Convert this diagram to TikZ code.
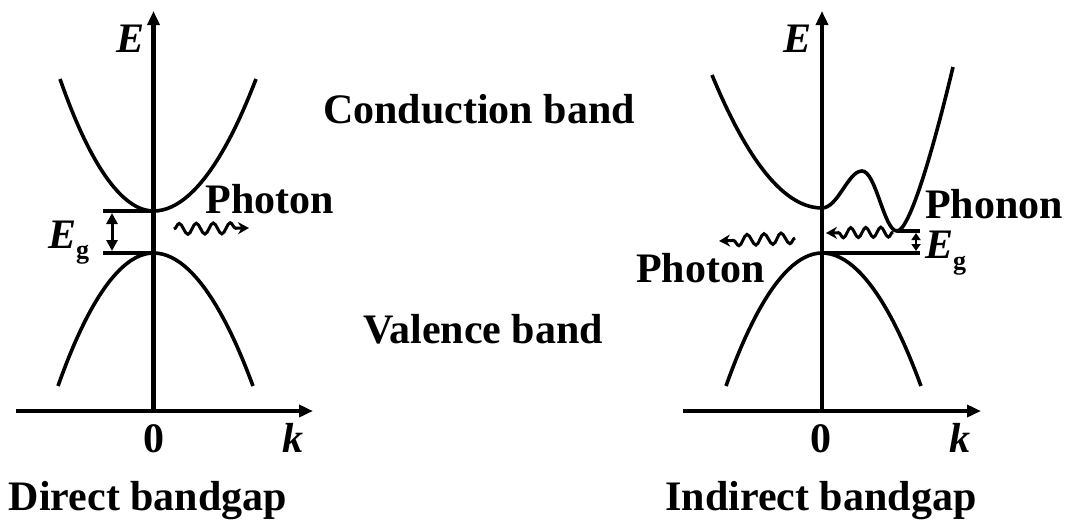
\documentclass[tikz,border=0pt]{standalone}
\usepackage{fontspec}
\setmainfont{Liberation Serif}
\usetikzlibrary{arrows.meta,decorations.pathmorphing}
\begin{document}
\begin{tikzpicture}[x=1pt,y=-1pt,
  lbl/.style={font=\fontsize{42}{42}\selectfont\bfseries, inner sep=0pt},
  ilbl/.style={font=\fontsize{42}{42}\selectfont\bfseries\itshape, inner sep=0pt},
  axis/.style={line width=4.2pt, -{Triangle[length=14pt,width=12pt]}},
  band/.style={line width=3.6pt},
  gapline/.style={line width=3.8pt},
  gaparrow/.style={line width=3pt, {Triangle[length=11pt,width=11pt]}-{Triangle[length=11pt,width=11pt]}},
  wave/.style={line width=3pt, decorate,
     decoration={snake, amplitude=5.5pt, segment length=17pt, post length=13pt},
     -{Stealth[length=11pt,width=12pt]}}]
\useasboundingbox (0,0) rectangle (1066,523);

% ---------- Direct bandgap ----------
\coordinate (LO) at (153.5,411);
\coordinate (LxS) at (16,411);
\coordinate (LxE) at (313,411);
\coordinate (LyE) at (153.5,11);
\draw[line width=4.2pt] (LO) -- ++(0,2);
\draw[axis] (LxS) -- (LxE);
\draw[axis] (LO) -- (LyE);

\coordinate (LCB) at (153.5,211);
\coordinate (LVB) at (153.5,253);
\draw[band] (60,79) parabola bend (LCB) (256,79);
\draw[band] (58,386) parabola bend (LVB) (253,386);

\coordinate (LgT) at (103,211);
\coordinate (LgB) at (103,253);
\draw[gapline] (LgT) -- (LCB);
\draw[gapline] (LgB) -- (LVB);
\coordinate (LaT) at (112,213);
\coordinate (LaB) at (112,251);
\draw[gaparrow] (LaT) -- (LaB);

\coordinate (LphS) at (174,229);
\coordinate (LphE) at (249,228);
\draw[wave] (LphS) -- (LphE);

\node[ilbl, anchor=base east] (LE) at (145,52) {E};
\node[lbl, anchor=base] (L0) at (154,452) {0};
\node[ilbl, anchor=base] (Lk) at (293,452) {k};
\node[lbl, anchor=base west] (LEg) at (48,248) {\textit{E}\raisebox{-10pt}{\fontsize{26}{26}\selectfont g}};
\node[lbl, anchor=base] (Lphoton) at (270,213) {Photon};
\node[lbl, anchor=base] (Ltitle) at (148,510) {Direct bandgap};

% ---------- middle labels ----------
\node[lbl, anchor=base] (cb) at (479,123) {Conduction band};
\node[lbl, anchor=base] (vb) at (483,343) {Valence band};

% ---------- Indirect bandgap ----------
\coordinate (RO) at (822,411);
\coordinate (RxS) at (683,411);
\coordinate (RxE) at (981,411);
\coordinate (RyE) at (822,11);
\draw[line width=4.2pt] (RO) -- ++(0,2);
\draw[axis] (RxS) -- (RxE);
\draw[axis] (RO) -- (RyE);

\coordinate (RCB) at (822,208);
\coordinate (Rpk) at (862,171);
\coordinate (Rmin) at (897,231);
\coordinate (RVB) at (822,253);
\draw[band] (712,75) .. controls (748.7,163.7) and (785.3,208) .. (RCB)
  .. controls (838,208) and (848,171) .. (Rpk)
  .. controls (876,171) and (884,231) .. (Rmin)
  .. controls (911,231) and (938,130) .. (953,67);
\draw[band] (726,386) parabola bend (RVB) (921,386);

\coordinate (RgT) at (920,231);
\coordinate (RgB) at (920,253);
\draw[gapline] (Rmin) -- (RgT);
\draw[gapline] (RVB) -- (RgB);
\coordinate (RaT) at (916,233);
\coordinate (RaB) at (916,251);
\draw[line width=2.6pt, {Triangle[length=7pt,width=9pt]}-{Triangle[length=7pt,width=9pt]}] (RaT) -- (RaB);

\coordinate (RpnS) at (893,232);
\coordinate (RpnE) at (826,233);
\draw[wave, decoration={segment length=15pt, amplitude=5pt, post length=12pt}] (RpnS) -- (RpnE);
\coordinate (RphS) at (795,238);
\coordinate (RphE) at (719,241);
\draw[wave] (RphS) -- (RphE);

\node[ilbl, anchor=base east] (RE) at (812,52) {E};
\node[lbl, anchor=base] (R0) at (821,452) {0};
\node[ilbl, anchor=base] (Rk) at (960,452) {k};
\node[lbl, anchor=base west] (REg) at (925,258) {\textit{E}\raisebox{-11pt}{\fontsize{26}{26}\selectfont g}};
\node[lbl, anchor=base] (Rphonon) at (994,218) {Phonon};
\node[lbl, anchor=base west] (Rphoton) at (636,282) {Photon};
\node[lbl, anchor=base] (Rtitle) at (821,510) {Indirect bandgap};
\end{tikzpicture}
\end{document}
